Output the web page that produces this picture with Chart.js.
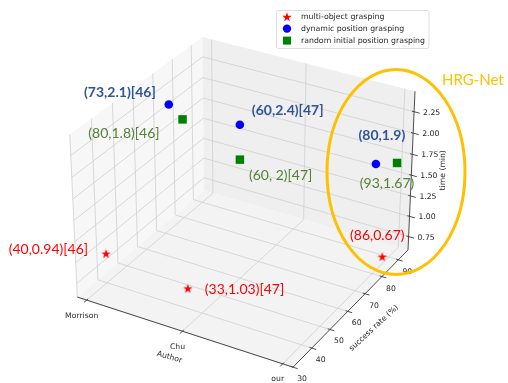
<!DOCTYPE html>
<html>
<head>
<meta charset="utf-8">
<script src="https://cdn.jsdelivr.net/npm/chart.js@4.4.1/dist/chart.umd.min.js"></script>
<style>
  html, body { margin: 0; padding: 0; background: #fff; overflow: hidden; }
  #wrap { width: 508px; height: 383px; position: relative; }
</style>
</head>
<body>
<div id="wrap"><canvas id="chart"></canvas></div>
<script>
// categories on the Author axis
const authors = ['Morrison', 'Chu', 'our'];
const seriesNames = ['multi-object grasping', 'dynamic position grasping', 'random initial position grasping'];

// success rate (%) and time (min) for each author
const multiRate = [40, 33, 86];
const multiTime = [0.94, 1.03, 0.67];
const dynRate = [73, 60, 80];
const dynTime = [2.1, 2.4, 1.9];
const randRate = [80, 60, 93];
const randTime = [1.8, 2, 1.67];

// annotation texts written next to the points
const multiLabels = ['(40,0.94)[46]', '(33,1.03)[47]', '(86,0.67)'];
const dynLabels = ['(73,2.1)[46]', '(60,2.4)[47]', '(80,1.9)'];
const randLabels = ['(80,1.8)[46]', '(60, 2)[47]', '(93,1.67)'];

// tick labels
const rateTicks = [30, 40, 50, 60, 70, 80, 90];
const timeTicks = [0.75, 1.00, 1.25, 1.50, 1.75, 2.00, 2.25];

// --- view (matplotlib default 3d camera) ---
const ELEV = 30 * Math.PI / 180;
const AZIM = -60 * Math.PI / 180;
const DIST = 35;
const BOX = [4, 4, 3];
const SCALE = 61.8, CX = 245.6, CY = 194.5;
const W = 508, H = 383;

function padLim(vals) {
  const lo = Math.min(...vals), hi = Math.max(...vals), m = (hi - lo) * 0.05;
  return [lo - m, hi + m];
}
const xLim = padLim([0, authors.length - 1]);
const yLim = padLim([...multiRate, ...dynRate, ...randRate]);
const zLim = padLim([...multiTime, ...dynTime, ...randTime]);

const U = [-Math.sin(AZIM), Math.cos(AZIM), 0];
const V = [-Math.sin(ELEV) * Math.cos(AZIM), -Math.sin(ELEV) * Math.sin(AZIM), Math.cos(ELEV)];
const WD = [Math.cos(ELEV) * Math.cos(AZIM), Math.cos(ELEV) * Math.sin(AZIM), Math.sin(ELEV)];

function proj(x, y, z) {
  const p = [
    ((x - xLim[0]) / (xLim[1] - xLim[0]) - 0.5) * BOX[0],
    ((y - yLim[0]) / (yLim[1] - yLim[0]) - 0.5) * BOX[1],
    ((z - zLim[0]) / (zLim[1] - zLim[0]) - 0.5) * BOX[2]
  ];
  const dot = a => p[0] * a[0] + p[1] * a[1] + p[2] * a[2];
  const f = DIST / (DIST - dot(WD));
  return { x: dot(U) * f, y: dot(V) * f };
}

// styles
const paneColors = { left: '#f7f7f7', back: '#efefef', floor: '#f3f3f3' };
const gridColor = '#cfcfcf';
const axisColor = '#3a3a3a';
const tickFont = '7.7px "DejaVu Sans"';
const noteFont = '14px Lato';
const noteBold = 'bold 14px Lato';
const colors = { multi: '#ff0000', dyn: '#0000ff', rand: '#008000' };
const noteColors = { multi: '#ff0000', dyn: '#2f5597', rand: '#548235' };

// where each annotation sits relative to its point (pixels)
const multiNote = [{ dx: -18, dy: -4, align: 'right' }, { dx: 17, dy: 1, align: 'left' }, { dx: -5, dy: -21, align: 'center' }];
const dynNote = [{ dx: -13, dy: -12, align: 'right' }, { dx: 12, dy: -14, align: 'left' }, { dx: 6, dy: -28, align: 'center' }];
const randNote = [{ dx: -23, dy: 14, align: 'right' }, { dx: 9, dy: 16, align: 'left' }, { dx: -10, dy: 21, align: 'center' }];

function starPath(ctx, x, y, r) {
  ctx.beginPath();
  for (let k = 0; k < 10; k++) {
    const rr = k % 2 ? r * 0.382 : r;
    const a = -Math.PI / 2 + k * Math.PI / 5;
    const px = x + rr * Math.cos(a), py = y + rr * Math.sin(a);
    k ? ctx.lineTo(px, py) : ctx.moveTo(px, py);
  }
  ctx.closePath();
}

function makeStar(r, color) {
  const c = document.createElement('canvas');
  c.width = c.height = Math.ceil(r * 2 + 2);
  const g = c.getContext('2d');
  starPath(g, c.width / 2, c.height / 2 + r * 0.1, r);
  g.fillStyle = color;
  g.fill();
  return c;
}

const frame3d = {
  id: 'frame3d',
  beforeDatasetsDraw(chart) {
    const ctx = chart.ctx;
    const P = (x, y, z) => {
      const q = proj(x, y, z);
      return [chart.scales.x.getPixelForValue(q.x), chart.scales.y.getPixelForValue(q.y)];
    };
    const [x0, x1] = xLim, [y0, y1] = yLim, [z0, z1] = zLim;
    const dxR = x1 - x0, dyR = y1 - y0;
    ctx.save();

    const face = (pts, color) => {
      ctx.beginPath();
      pts.forEach((p, i) => { const s = P(...p); i ? ctx.lineTo(s[0], s[1]) : ctx.moveTo(s[0], s[1]); });
      ctx.closePath();
      ctx.fillStyle = color;
      ctx.fill();
    };
    face([[x0, y0, z0], [x0, y1, z0], [x0, y1, z1], [x0, y0, z1]], paneColors.left);
    face([[x0, y1, z0], [x1, y1, z0], [x1, y1, z1], [x0, y1, z1]], paneColors.back);
    face([[x0, y0, z0], [x1, y0, z0], [x1, y1, z0], [x0, y1, z0]], paneColors.floor);

    const seg = (a, b) => {
      const p = P(...a), q = P(...b);
      ctx.moveTo(p[0], p[1]);
      ctx.lineTo(q[0], q[1]);
    };

    // grid
    ctx.beginPath();
    authors.forEach((_, i) => { seg([i, y0, z0], [i, y1, z0]); seg([i, y1, z0], [i, y1, z1]); });
    rateTicks.forEach(r => { seg([x0, r, z0], [x1, r, z0]); seg([x0, r, z0], [x0, r, z1]); });
    timeTicks.forEach(t => { seg([x0, y0, t], [x0, y1, t]); seg([x0, y1, t], [x1, y1, t]); });
    ctx.strokeStyle = gridColor;
    ctx.lineWidth = 0.8;
    ctx.stroke();

    // axis lines and ticks
    ctx.beginPath();
    seg([x0, y0, z0], [x1, y0, z0]);
    seg([x1, y0, z0], [x1, y1, z0]);
    seg([x1, y1, z0], [x1, y1, z1]);
    authors.forEach((_, i) => seg([i, y0 + 0.01 * dyR, z0], [i, y0 - 0.02 * dyR, z0]));
    rateTicks.forEach(r => seg([x1 - 0.01 * dxR, r, z0], [x1 + 0.02 * dxR, r, z0]));
    timeTicks.forEach(t => seg([x1 - 0.01 * dxR, y1, t], [x1 + 0.025 * dxR, y1, t]));
    ctx.strokeStyle = axisColor;
    ctx.lineWidth = 0.9;
    ctx.stroke();

    // tick labels
    ctx.fillStyle = '#262626';
    ctx.font = tickFont;
    ctx.textBaseline = 'middle';
    ctx.textAlign = 'center';
    authors.forEach((a, i) => { const p = P(i, y0, z0); ctx.fillText(a, p[0] - 5, p[1] + 15.5); });
    rateTicks.forEach(r => { const p = P(x1, r, z0); ctx.fillText(String(r), p[0] + 9, p[1] + 12); });
    ctx.textAlign = 'left';
    timeTicks.forEach(t => { const p = P(x1, y1, t); ctx.fillText(t.toFixed(2), p[0] + 9, p[1] + 1); });

    // axis titles
    const title = (text, p, ang) => {
      ctx.save();
      ctx.translate(p[0], p[1]);
      ctx.rotate(ang);
      ctx.textAlign = 'center';
      ctx.fillText(text, 0, 0);
      ctx.restore();
    };
    const a0 = P(x0, y0, z0), a1 = P(x1, y0, z0), b1 = P(x1, y1, z0);
    const mx = P((x0 + x1) / 2, y0, z0);
    title('Author', [mx[0] - 13, mx[1] + 26], Math.atan2(a1[1] - a0[1], a1[0] - a0[0]) - 0.03);
    const my = P(x1, (y0 + y1) / 2, z0);
    title('success rate (%)', [my[0] + 21, my[1] + 22], Math.atan2(b1[1] - a1[1], b1[0] - a1[0]) + 0.05);
    const mz = P(x1, y1, (z0 + z1) / 2);
    title('time (min)', [mz[0] + 32, mz[1] - 2], -Math.PI / 2);
    ctx.restore();
  },
  afterDraw(chart) {
    const ctx = chart.ctx;
    ctx.save();
    ctx.textBaseline = 'middle';

    // annotations beside the points
    const groups = [
      [0, multiLabels, multiNote, noteColors.multi, noteFont],
      [1, dynLabels, dynNote, noteColors.dyn, noteBold],
      [2, randLabels, randNote, noteColors.rand, noteFont]
    ];
    groups.forEach(([ds, labels, notes, color, font]) => {
      const meta = chart.getDatasetMeta(ds);
      labels.forEach((txt, i) => {
        const el = meta.data[i];
        ctx.font = font;
        ctx.fillStyle = color;
        ctx.textAlign = notes[i].align;
        ctx.fillText(txt, el.x + notes[i].dx, el.y + notes[i].dy);
      });
    });

    // HRG-Net highlight ring
    ctx.beginPath();
    ctx.ellipse(396, 172, 69, 102.5, 0, 0, Math.PI * 2);
    ctx.strokeStyle = '#ffc000';
    ctx.lineWidth = 3;
    ctx.stroke();
    ctx.font = '15px Lato';
    ctx.fillStyle = '#ffc000';
    ctx.textAlign = 'left';
    ctx.fillText('HRG-Net', 442, 80);

    // legend
    const lx = 276.5, ly = 10.5, lw = 152.5, lh = 38;
    ctx.beginPath();
    ctx.roundRect(lx, ly, lw, lh, 2);
    ctx.fillStyle = 'rgba(255,255,255,0.8)';
    ctx.fill();
    ctx.strokeStyle = '#d6d6d6';
    ctx.lineWidth = 0.8;
    ctx.stroke();
    const rows = [16.8, 28.6, 40.6];
    ctx.font = '7.8px "DejaVu Sans"';
    ctx.textAlign = 'left';
    seriesNames.forEach((name, i) => {
      const y = rows[i], x = 287;
      ctx.beginPath();
      if (i === 0) {
        starPath(ctx, x, y + 0.5, 5);
        ctx.fillStyle = colors.multi;
      } else if (i === 1) {
        ctx.arc(x, y, 4.2, 0, Math.PI * 2);
        ctx.fillStyle = colors.dyn;
      } else {
        ctx.rect(x - 4, y - 4, 8, 8);
        ctx.fillStyle = colors.rand;
      }
      ctx.fill();
      ctx.fillStyle = '#262626';
      ctx.fillText(name, 301, y);
    });
    ctx.restore();
  }
};

function build() {
  const pts = (rates, times) => authors.map((a, i) => proj(i, rates[i], times[i]));
  new Chart(document.getElementById('chart'), {
    type: 'scatter',
    data: {
      datasets: [
        { label: seriesNames[0], data: pts(multiRate, multiTime), pointStyle: makeStar(5, colors.multi), pointRadius: 5, backgroundColor: colors.multi, borderWidth: 0 },
        { label: seriesNames[1], data: pts(dynRate, dynTime), pointStyle: 'circle', pointRadius: 4.3, backgroundColor: colors.dyn, borderWidth: 0 },
        { label: seriesNames[2], data: pts(randRate, randTime), pointStyle: 'rect', pointRadius: 6, backgroundColor: colors.rand, borderWidth: 0 }
      ]
    },
    options: {
      responsive: true,
      maintainAspectRatio: false,
      animation: false,
      layout: { padding: 0, autoPadding: false },
      scales: {
        x: { type: 'linear', display: false, min: -CX / SCALE, max: (W - CX) / SCALE },
        y: { type: 'linear', display: false, min: (CY - H) / SCALE, max: CY / SCALE }
      },
      plugins: { legend: { display: false }, tooltip: { enabled: false } }
    },
    plugins: [frame3d]
  });
}

Promise.all([
  document.fonts.load('14px Lato'),
  document.fonts.load('bold 14px Lato'),
  document.fonts.load('8px "DejaVu Sans"')
]).then(build, build);
</script>
</body>
</html>
